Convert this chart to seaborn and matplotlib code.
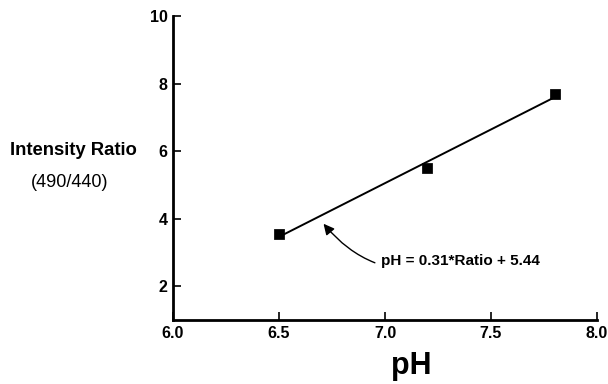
import matplotlib
matplotlib.use("Agg")
import matplotlib.pyplot as plt
import seaborn as sns
import pandas as pd

# data
ph = [6.5, 7.2, 7.8]
ratio = [3.55, 5.5, 7.7]
x_ticks = [6.0, 6.5, 7.0, 7.5, 8.0]
y_ticks = [2, 4, 6, 8, 10]
equation = "pH = 0.31*Ratio + 5.44"

df = pd.DataFrame({"pH": ph, "ratio": ratio})

sns.set_style("ticks", {"axes.edgecolor": "black", "text.color": "black",
                        "xtick.color": "black", "ytick.color": "black"})
plt.rcParams["font.family"] = ["Liberation Sans", "DejaVu Sans"]

fig = plt.figure(figsize=(6.08, 3.84), dpi=100)
ax = fig.add_axes([0.2845, 0.1667, 0.6975, 0.7913])

# fitted line + points
sns.regplot(data=df, x="pH", y="ratio", ax=ax, ci=None, truncate=True,
            scatter=False, line_kws={"color": "black", "lw": 1.4})
sns.scatterplot(data=df, x="pH", y="ratio", ax=ax, marker="s", s=45,
                color="black", edgecolor="black", zorder=3)

ax.set_xlim(6.0, 8.0)
ax.set_ylim(1, 10)
ax.set_xticks(x_ticks)
ax.set_xticklabels([f"{v:.1f}" for v in x_ticks], fontweight="bold", fontsize=11.5)
ax.set_yticks(y_ticks)
ax.set_yticklabels([str(v) for v in y_ticks], fontweight="bold", fontsize=11.5)
ax.tick_params(direction="in", length=6, width=1.2, pad=4, colors="black")
ax.set_xlabel("")
ax.set_ylabel("")
sns.despine(ax=ax)
for s in ["left", "bottom"]:
    ax.spines[s].set_linewidth(2)
    ax.spines[s].set_color("black")

# equation annotation with curved arrow
ax.annotate(equation, xy=(6.71, 3.85), xytext=(6.98, 2.75),
            fontsize=11, fontweight="bold", va="center", ha="left", color="black",
            arrowprops=dict(arrowstyle="-|>", color="black", lw=1.0,
                            connectionstyle="arc3,rad=-0.35",
                            mutation_scale=16, shrinkA=2, shrinkB=0))

# axis titles
fig.text(0.121, 0.607, "Intensity Ratio", fontsize=13.3, fontweight="bold",
         ha="center", va="center", color="black")
fig.text(0.115, 0.526, "(490/440)", fontsize=13, ha="center", va="center",
         color="black")
fig.text(0.676, 0.048, "pH", fontsize=22, fontweight="bold",
         ha="center", va="center", color="black")

fig.savefig("out.png", dpi=100)
